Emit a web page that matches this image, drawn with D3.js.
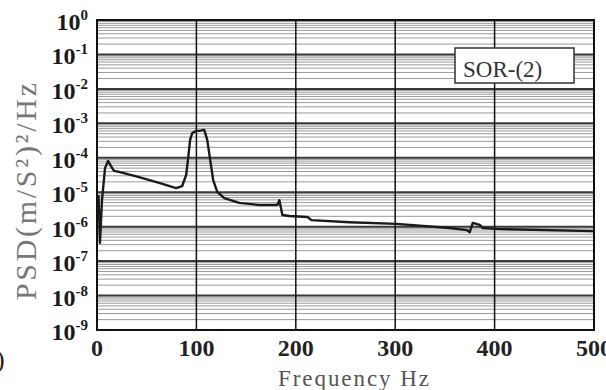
<html>
<head>
<script src="https://d3js.org/d3.v7.min.js"></script>
<style>
  body { margin: 0; background: #fff; }
  text { font-family: "Liberation Serif", "DejaVu Serif", serif; }
</style>
</head>
<body>
<svg id="chart" width="606" height="390"></svg>
<script>
// frequency (Hz) and PSD values
const freq = [1.5, 3, 5, 8.1, 11.1, 14.1, 17.1, 22.2, 42.3, 62.5, 79.6, 85.7, 89.7, 91.7, 93.7, 95.8,
              99.8, 102.8, 107.9, 110.9, 113.9, 116.9, 121, 128, 143.1, 163.3, 181.4, 183.5, 186.5,
              193.5, 211.7, 215.7, 254, 301.4, 354.8, 372, 375, 378, 385.1, 388.1, 405.2, 499];
const logPsd = [-5.08, -6.47, -5.23, -4.30, -4.09, -4.24, -4.38, -4.41, -4.56, -4.73, -4.88, -4.82,
                -4.50, -4.01, -3.48, -3.28, -3.22, -3.22, -3.19, -3.48, -4.07, -4.65, -4.99, -5.17,
                -5.31, -5.37, -5.37, -5.23, -5.66, -5.69, -5.72, -5.81, -5.87, -5.92, -6.04, -6.10,
                -6.16, -5.89, -5.95, -6.04, -6.07, -6.13];
const xTicks = [0, 100, 200, 300, 400, 500];
const yExps = [0, -1, -2, -3, -4, -5, -6, -7, -8, -9];
const legendLabel = "SOR-(2)";

const svg = d3.select("#chart");
const box = { left: 97, right: 594, top: 20, bottom: 330 };

const x = d3.scaleLinear().domain([0, 500]).range([box.left, box.right]);
const y = d3.scaleLog().domain([1e-9, 1]).range([box.bottom, box.top]);

const data = freq.map((f, i) => ({ f: f, v: Math.pow(10, logPsd[i]) }));

// horizontal grid: minor log lines then decade lines
const minor = [];
yExps.slice(1).forEach(e => {
  for (let k = 2; k <= 9; k++) minor.push(k * Math.pow(10, e));
});
svg.append("g").selectAll("line").data(minor).join("line")
  .attr("x1", box.left).attr("x2", box.right)
  .attr("y1", d => y(d)).attr("y2", d => y(d))
  .attr("stroke", "#9a9a9a").attr("stroke-width", 1);

svg.append("g").selectAll("line").data(yExps).join("line")
  .attr("x1", box.left).attr("x2", box.right)
  .attr("y1", d => y(Math.pow(10, d))).attr("y2", d => y(Math.pow(10, d)))
  .attr("stroke", "#3a3a3a").attr("stroke-width", 2);

// vertical grid
svg.append("g").selectAll("line").data(xTicks.slice(1, -1)).join("line")
  .attr("x1", d => x(d)).attr("x2", d => x(d))
  .attr("y1", box.top).attr("y2", box.bottom)
  .attr("stroke", "#111").attr("stroke-width", 1.5);

// frame
svg.append("rect")
  .attr("x", box.left).attr("y", box.top)
  .attr("width", box.right - box.left).attr("height", box.bottom - box.top)
  .attr("fill", "none").attr("stroke", "#111").attr("stroke-width", 2);

// curve
const line = d3.line().x(d => x(d.f)).y(d => y(d.v));
svg.append("path").datum(data)
  .attr("d", line)
  .attr("fill", "none").attr("stroke", "#1a1a1a").attr("stroke-width", 2.4)
  .attr("stroke-linejoin", "round");

// legend box
svg.append("rect")
  .attr("x", 455).attr("y", 48).attr("width", 119).attr("height", 35)
  .attr("fill", "#fff").attr("stroke", "#333").attr("stroke-width", 1.5);
svg.append("text")
  .attr("x", 463).attr("y", 77)
  .attr("font-size", 23).attr("fill", "#333")
  .text(legendLabel);

// y tick labels
const yl = svg.append("g").selectAll("text").data(yExps).join("text")
  .attr("x", 88).attr("y", d => y(Math.pow(10, d)) + 10)
  .attr("text-anchor", "end")
  .attr("font-size", 24).attr("font-weight", "bold").attr("fill", "#1a1a1a");
yl.append("tspan").text("10");
yl.append("tspan").attr("dy", -10).attr("font-size", 15).text(d => d === 0 ? "0" : "-" + Math.abs(d));

// x tick labels
svg.append("g").selectAll("text").data(xTicks).join("text")
  .attr("x", d => x(d)).attr("y", 356)
  .attr("text-anchor", "middle")
  .attr("font-size", 24).attr("font-weight", "bold").attr("fill", "#222")
  .text(d => d);

// axis titles
svg.append("text")
  .attr("x", 278).attr("y", 386)
  .attr("font-size", 23).attr("fill", "#555")
  .attr("textLength", 151).attr("lengthAdjust", "spacing")
  .text("Frequency Hz");

svg.append("text")
  .attr("transform", "translate(36,300) rotate(-90)")
  .attr("font-size", 30).attr("fill", "#777")
  .attr("textLength", 217).attr("lengthAdjust", "spacing")
  .text("PSD(m/S²)²/Hz");

// stray panel mark at the cut edge
svg.append("text")
  .attr("x", -4).attr("y", 368)
  .attr("font-size", 26).attr("fill", "#222")
  .text(")");
</script>
</body>
</html>
